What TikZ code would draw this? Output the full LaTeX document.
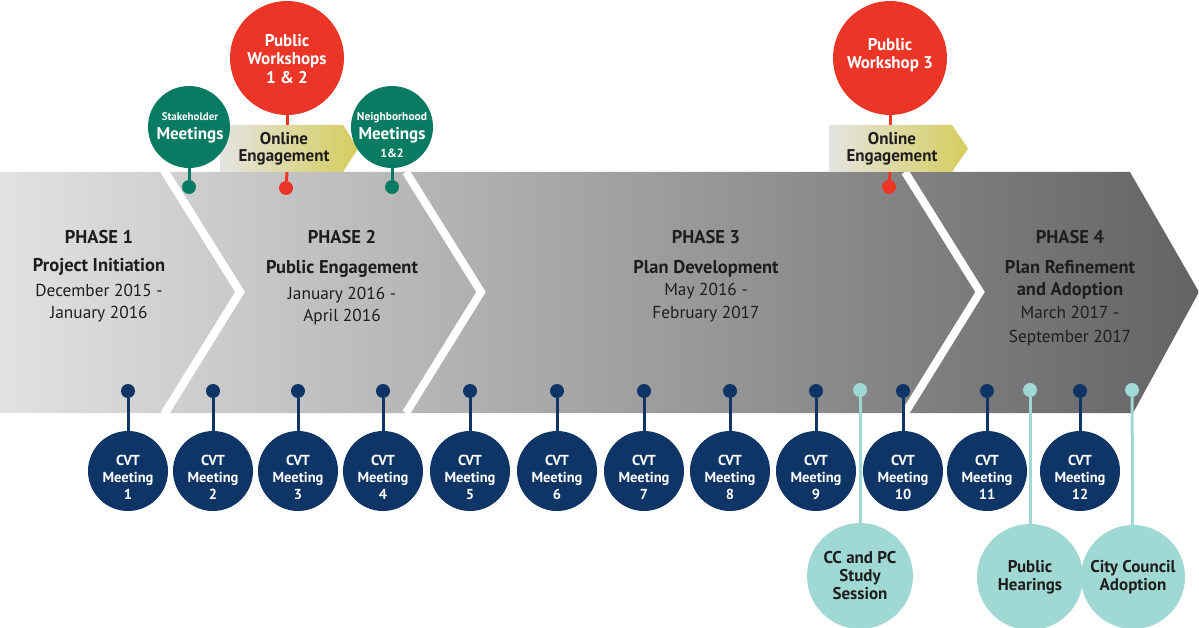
\documentclass[tikz,border=0pt]{standalone}
\usepackage{fontspec}
\setmainfont{PT Sans}
\definecolor{navyc}{HTML}{0E3566}
\definecolor{grnc}{HTML}{0A7B63}
\definecolor{redc}{HTML}{EA3527}
\definecolor{tealc}{HTML}{A0D8D3}
\definecolor{bandL}{HTML}{E2E2E2}
\definecolor{bandM}{HTML}{A2A1A3}
\definecolor{bandR}{HTML}{636365}
\definecolor{boxL}{HTML}{E4E4E2}
\definecolor{boxR}{HTML}{D5CD5C}
\definecolor{phtxt}{HTML}{1E1E1E}
\begin{document}
\begin{tikzpicture}[x=1pt,y=-1pt,
  pinN/.style={circle,fill=navyc,minimum size=14pt,inner sep=0pt},
  pinG/.style={circle,fill=grnc,minimum size=14pt,inner sep=0pt},
  pinR/.style={circle,fill=redc,minimum size=14pt,inner sep=0pt},
  pinT/.style={circle,fill=tealc,minimum size=14pt,inner sep=0pt},
  stemN/.style={draw=navyc,line width=3pt},
  stemG/.style={draw=grnc,line width=3pt},
  stemR/.style={draw=redc,line width=3pt},
  stemT/.style={draw=tealc,line width=3pt},
  cvt/.style={circle,fill=navyc,minimum size=80pt,inner sep=0pt},
  cvtlab/.style={text=white,font=\bfseries\fontsize{14.5}{17}\selectfont,align=center,inner sep=0pt},
  tbub/.style={circle,fill=tealc,minimum size=106pt,inner sep=0pt,text=phtxt,font=\bfseries\fontsize{17}{18}\selectfont,align=center},
  gbub/.style={circle,fill=grnc,minimum size=82pt,inner sep=0pt},
  rbub/.style={circle,fill=redc,minimum size=114pt,inner sep=0pt},
  wlab/.style={text=white,font=\bfseries\fontsize{17}{18.5}\selectfont,align=center,inner sep=0pt},
  olab/.style={text=phtxt,font=\bfseries\fontsize{17}{17.5}\selectfont,align=center,inner sep=0pt,minimum width=123pt,minimum height=47pt},
  phase/.style={font=\bfseries\fontsize{18.5}{20}\selectfont,text=phtxt,anchor=base,inner sep=0pt},
  datel/.style={font=\fontsize{17.3}{20}\selectfont,text=phtxt,anchor=base,inner sep=0pt},
  sep/.style={draw=white,line width=8pt,line join=miter}
]
\useasboundingbox (0,0) rectangle (1199,628);

% band
\shade[left color=bandL,middle color=bandM,right color=bandR]
  (0,172) -- (1130,172) -- (1199,292) -- (1133,413) -- (0,413) -- cycle;
\begin{scope}
  \clip (0,172) rectangle (1199,413);
  \draw[sep] (165,162) -- (165,172) -- (240,292) -- (165,413) -- (165,423);
  \draw[sep] (165,172) -- (240,292) -- (165,413);
  \draw[sep] (406,172) -- (481,292) -- (406,413);
  \draw[sep] (905,172) -- (980,292) -- (905,413);
\end{scope}

% phase texts
\node[phase] (p1a) at (99,244) {PHASE 1};
\node[phase] (p1b) at (99,272) {Project Initiation};
\node[datel] (p1c) at (99,297) {December 2015 -};
\node[datel] (p1d) at (99,319) {January 2016};
\node[phase] (p2a) at (342,244) {PHASE 2};
\node[phase] (p2b) at (342,273) {Public Engagement};
\node[datel] (p2c) at (342,299) {January 2016 -};
\node[datel] (p2d) at (342,321) {April 2016};
\node[phase] (p3a) at (706,244) {PHASE 3};
\node[phase] (p3b) at (706,273) {Plan Development};
\node[datel] (p3c) at (706,296) {May 2016 -};
\node[datel] (p3d) at (706,318) {February 2017};
\node[phase] (p4a) at (1070,244) {PHASE 4};
\node[phase] (p4b) at (1070,273) {Plan Refinement};
\node[phase] (p4c) at (1070,295) {and Adoption};
\node[datel] (p4d) at (1070,319) {March 2017 -};
\node[datel] (p4e) at (1070,342) {September 2017};

% online engagement boxes
\shade[left color=boxL,right color=boxR] (220,125) -- (343,125) -- (358,148.5) -- (343,172) -- (220,172) -- cycle;
\node[olab] (ob1) at (284,148.5) {Online\\Engagement};
\shade[left color=boxL,right color=boxR] (829,125) -- (952,125) -- (968,148.5) -- (952,172) -- (829,172) -- cycle;
\node[olab] (ob2) at (892,148.5) {Online\\Engagement};

% top bubbles
\node[gbub] (sh) at (189,127) {};
\node[wlab] (sht) at (190,128) {{\fontsize{11}{13}\selectfont Stakeholder}\\Meetings};
\node[pinG] (shp) at (189,187) {};
\draw[stemG] (sh) -- (shp);

\node[gbub] (nb) at (392,127) {};
\node[wlab] (nbt) at (392,135) {{\fontsize{11.5}{13}\selectfont Neighborhood}\\Meetings\\{\fontsize{12}{13}\selectfont 1\&2}};
\node[pinG] (nbp) at (392,187) {};
\draw[stemG] (nb) -- (nbp);

\node[rbub] (w12) at (287,58) {};
\node[wlab] (w12t) at (287,59) {Public\\Workshops\\1 \& 2};
\node[pinR] (w12p) at (286,188) {};
\draw[stemR] (w12.south) -- (w12.south |- ob1.north);
\draw[stemR] (w12.south |- ob1.south) -- (w12p);

\node[rbub] (w3) at (890,58) {};
\node[wlab] (w3t) at (890,55) {Public\\Workshop 3};
\node[pinR] (w3p) at (889,187) {};
\draw[stemR] (w3.south) -- (w3.south |- ob2.north);
\draw[stemR] (w3.south |- ob2.south) -- (w3p);

% CVT meetings
\foreach \x/\n in {128/1,213/2,298/3,383/4,470/5,557/6,644/7,730/8,816/9,903/10,987/11,1080/12}{
  \node[pinN] (cp\n) at (\x,391) {};
  \node[cvt] (c\n) at (\x,471) {};
  \node[cvtlab] (ct\n) at (\x,477) {CVT\\Meeting\\\n};
  \draw[stemN] (cp\n) -- (c\n);
}

% teal events
\node[pinT] (ccp) at (860,390) {};
\node[tbub] (cc) at (860,576) {CC and PC\\Study\\Session};
\draw[stemT] (ccp) -- (cc);
\node[pinT] (php) at (1030,390) {};
\node[tbub] (ph) at (1030,577) {Public\\Hearings};
\draw[stemT] (php) -- (ph);
\node[pinT] (cap) at (1132,390) {};
\node[tbub,minimum size=104pt] (ca) at (1133,577) {City Council\\Adoption};
\draw[stemT] (cap) -- (ca);
\end{tikzpicture}
\end{document}
